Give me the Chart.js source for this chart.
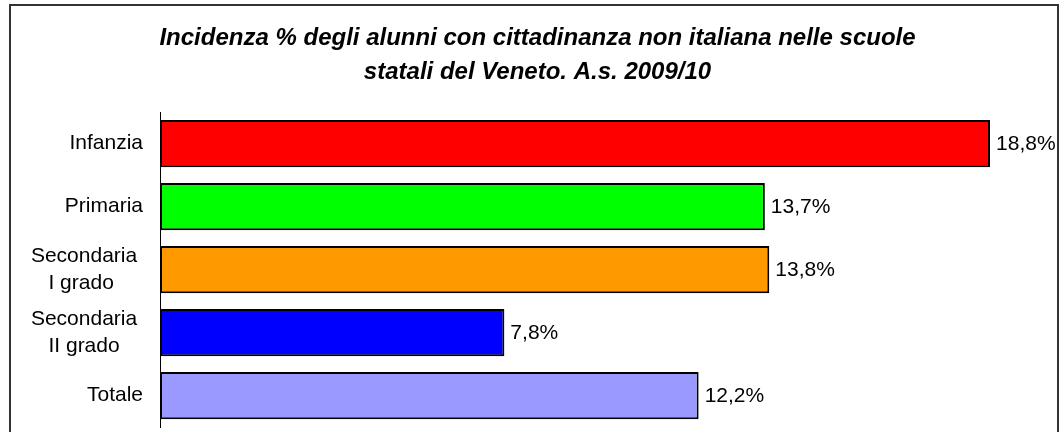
<!DOCTYPE html>
<html lang="it">
<head>
  <meta charset="UTF-8">
  <title>Incidenza % alunni con cittadinanza non italiana - Veneto 2009/10</title>
  <style>
    body { margin: 0; background: #fff; }
    #wrap { width: 1059px; height: 432px; }
  </style>
</head>
<body>
  <div id="wrap"><canvas id="chart"></canvas></div>

  <script src="https://cdn.jsdelivr.net/npm/chart.js"></script>
  <script>
    const categories = ['Infanzia', 'Primaria', ['Secondaria', 'I grado'], ['Secondaria', 'II grado'], 'Totale'];
    const values = [18.8, 13.7, 13.8, 7.8, 12.2];
    const barColors = ['#ff0000', '#00ff00', '#ff9900', '#0000ff', '#9999ff'];
    const titleLines = ['Incidenza % degli alunni con cittadinanza non italiana nelle scuole', 'statali del Veneto. A.s. 2009/10'];

    const FONT = '"Liberation Sans", Arial, sans-serif';

    // centra le righe delle etichette su due righe (come in Excel)
    const mctx = document.createElement('canvas').getContext('2d');
    mctx.font = '21px ' + FONT;
    function centreLines(label) {
      if (!Array.isArray(label)) return label;
      const w = label.map(l => mctx.measureText(l).width);
      const widest = Math.max(...w);
      const sp = mctx.measureText(' ').width;
      return label.map((l, i) => l + ' '.repeat(Math.round((widest - w[i]) / 2 / sp) + 1));
    }

    const frame = {
      id: 'frame',
      beforeDraw(chart) {
        const ctx = chart.ctx;
        ctx.save();
        ctx.fillStyle = '#fff';
        ctx.fillRect(0, 0, chart.width, chart.height);
        ctx.strokeStyle = '#333';
        ctx.lineWidth = 2;
        ctx.strokeRect(10, 5, 1048, 480);
        ctx.restore();
      }
    };

    const valueLabels = {
      id: 'valueLabels',
      afterDatasetsDraw(chart) {
        const ctx = chart.ctx;
        const meta = chart.getDatasetMeta(0);
        ctx.save();
        ctx.font = '21px ' + FONT;
        ctx.fillStyle = '#000';
        ctx.textAlign = 'left';
        ctx.textBaseline = 'middle';
        meta.data.forEach((bar, i) => {
          const txt = values[i].toFixed(1).replace('.', ',') + '%';
          ctx.fillText(txt, bar.x + 6, bar.y + 1);
        });
        ctx.restore();
      }
    };

    new Chart(document.getElementById('chart'), {
      type: 'bar',
      data: {
        labels: categories,
        datasets: [{
          data: values,
          backgroundColor: barColors,
          borderColor: '#000',
          borderWidth: 2,
          borderSkipped: false,
          barPercentage: 0.75,
          categoryPercentage: 1
        }]
      },
      options: {
        indexAxis: 'y',
        responsive: true,
        maintainAspectRatio: false,
        animation: false,
        layout: { padding: { left: 32, right: 16, top: 0, bottom: 5 } },
        scales: {
          x: { display: false, min: 0, max: 20 },
          y: {
            grid: { display: false, drawTicks: true, tickLength: 17 },
            border: { display: true, color: '#000', width: 1 },
            ticks: {
              padding: 0,
              color: '#000',
              font: { family: FONT, size: 21, lineHeight: 1.3 },
              callback(value) { return centreLines(this.getLabelForValue(value)); }
            },
            afterFit(scale) {
              scale.width = 128;
              scale.paddingTop = 0;
              scale.paddingBottom = 0;
            }
          }
        },
        plugins: {
          legend: { display: false },
          tooltip: { enabled: false },
          title: {
            display: true,
            text: titleLines,
            color: '#000',
            font: { family: FONT, size: 24, weight: 'bold', style: 'italic', lineHeight: 1.4 },
            padding: { top: 22, bottom: 23 }
          }
        }
      },
      plugins: [frame, valueLabels]
    });
  </script>
</body>
</html>
